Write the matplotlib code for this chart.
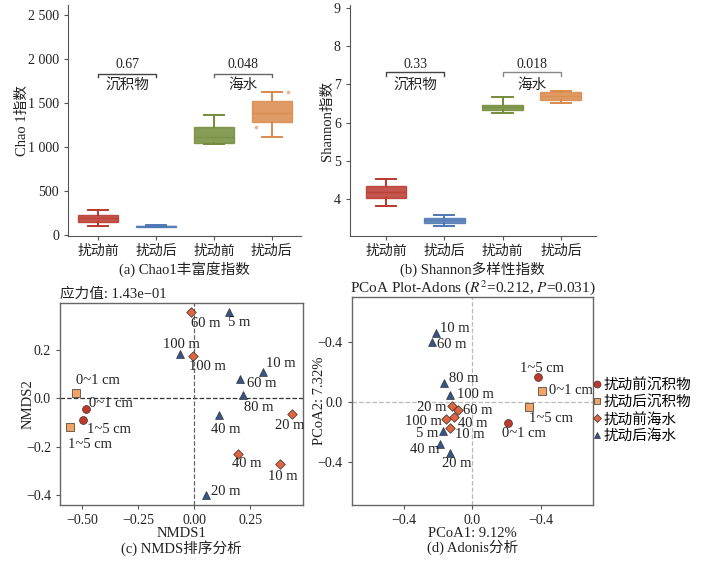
import matplotlib
matplotlib.use("Agg")
import matplotlib.pyplot as plt
from matplotlib.lines import Line2D
from matplotlib.ticker import FixedLocator, FixedFormatter

plt.rcParams['font.family'] = ['Liberation Serif', 'Noto Sans CJK SC', 'DejaVu Sans']
plt.rcParams['mathtext.fontset'] = 'stix'
plt.rcParams['axes.unicode_minus'] = True

# ---------------- data ----------------
groups = ["扰动前", "扰动后", "扰动前", "扰动后"]
box_colors = ["#B9382E", "#4E78B3", "#728C3A", "#D98A4B"]

# Chao1: whisker low, q1, median, q3, whisker high
chao_lo = [100, 88, 1030, 1110]
chao_q1 = [150, 95, 1040, 1280]
chao_med = [195, 100, 1110, 1390]
chao_q3 = [230, 106, 1230, 1520]
chao_hi = [280, 112, 1360, 1620]
chao_pts_x = [4.28, 3.72]
chao_pts_y = [1620, 1222]

# Shannon
sh_lo = [3.82, 3.30, 6.24, 6.52]
sh_q1 = [4.02, 3.38, 6.33, 6.60]
sh_med = [4.18, 3.45, 6.40, 6.70]
sh_q3 = [4.35, 3.50, 6.47, 6.79]
sh_hi = [4.53, 3.58, 6.68, 6.84]

chao_p = ["0.67", "0.048"]
sh_p = ["0.33", "0.018"]
pair_names = ["沉积物", "海水"]

legend_names = ["扰动前沉积物", "扰动后沉积物", "扰动前海水", "扰动后海水"]

# NMDS
nm_sed_pre_x = [-0.482, -0.494]
nm_sed_pre_y = [-0.044, -0.090]
nm_sed_pre_lab = ["0~1 cm", "1~5 cm"]
nm_sed_post_x = [-0.528, -0.552]
nm_sed_post_y = [0.021, -0.117]
nm_sed_post_lab = ["0~1 cm", "1~5 cm"]
nm_sea_pre_x = [-0.013, -0.005, 0.439, 0.198, 0.384]
nm_sea_pre_y = [0.356, 0.177, -0.065, -0.230, -0.272]
nm_sea_pre_lab = ["60 m", "100 m", "20 m", "40 m", "10 m"]
nm_sea_post_x = [0.158, -0.062, 0.309, 0.205, 0.217, 0.112, 0.052]
nm_sea_post_y = [0.359, 0.183, 0.110, 0.079, 0.014, -0.069, -0.400]
nm_sea_post_lab = ["5 m", "100 m", "10 m", "60 m", "80 m", "40 m", "20 m"]

# PCoA
pc_sed_pre_x = [0.379, 0.209]
pc_sed_pre_y = [0.165, -0.139]
pc_sed_pre_lab = ["1~5 cm", "0~1 cm"]
pc_sed_post_x = [0.404, 0.330]
pc_sed_post_y = [0.074, -0.038]
pc_sed_post_lab = ["0~1 cm", "1~5 cm"]
pc_sea_pre_x = [-0.116, -0.085, -0.153, -0.110, -0.128]
pc_sea_pre_y = [-0.027, -0.058, -0.112, -0.100, -0.174]
pc_sea_pre_lab = ["20 m", "60 m", "100 m", "40 m", "10 m"]
pc_sea_post_x = [-0.214, -0.236, -0.168, -0.129, -0.174, -0.186, -0.131]
pc_sea_post_y = [0.460, 0.400, 0.125, 0.047, -0.194, -0.282, -0.340]
pc_sea_post_lab = ["10 m", "60 m", "80 m", "100 m", "5 m", "40 m", "20 m"]

# label placement (offset in points, horizontal alignment)
nm_off = [
    [((2, 4), 'left'), ((3, -7), 'left')],
    [((0, 9), 'left'), ((-2, -13), 'left')],
    [((0, -8), 'left'), ((-3, -8), 'left'), ((-2, -8), 'center'), ((6, -7), 'center'), ((2, -9), 'center')],
    [((7, -8), 'center'), ((1, 7), 'center'), ((2, 6), 'left'), ((5, -3), 'left'),
     ((1, -9), 'left'), ((5, -10), 'center'), ((4, 3), 'left')],
]
pc_off = [
    [((3, 6), 'center'), ((11, -8), 'center')],
    [((5, 0), 'left'), ((0, -8), 'left')],
    [((-4, -1), 'right'), ((4, 0), 'left'), ((-3, -2), 'right'), ((3, -5), 'left'), ((3, -5), 'left')],
    [((3, 3), 'left'), ((4, -2), 'left'), ((4, 3), 'left'), ((5, 0), 'left'),
     ((-3, -2), 'right'), ((-1, -4), 'right'), ((5, -8), 'center')],
]

mk_styles = [('o', '#C0392B'), ('s', '#F2A262'), ('D', '#E0653E'), ('^', '#34568B')]
txt_col = '#222222'
spine_col = '#555555'

fig = plt.figure(figsize=(7.01, 5.62), dpi=100)
ax_a = fig.add_axes([0.097, 0.580, 0.332, 0.411])
ax_b = fig.add_axes([0.499, 0.580, 0.351, 0.411])
ax_c = fig.add_axes([0.0856, 0.1014, 0.347, 0.3594])
ax_d = fig.add_axes([0.502, 0.1014, 0.344, 0.370])


def draw_box(ax, lo, q1, med, q3, hi):
    stats = []
    for i in range(len(lo)):
        stats.append(dict(whislo=lo[i], q1=q1[i], med=med[i], q3=q3[i], whishi=hi[i], fliers=[]))
    bp = ax.bxp(stats, positions=[1, 2, 3, 4], widths=0.7, capwidths=0.35,
                patch_artist=True, showfliers=False)
    for i, c in enumerate(box_colors):
        bp['boxes'][i].set_facecolor(c)
        bp['boxes'][i].set_alpha(0.85)
        bp['boxes'][i].set_edgecolor(c)
        bp['boxes'][i].set_linewidth(1.0)
        bp['medians'][i].set_color(c)
        bp['medians'][i].set_linewidth(1.0)
        bp['medians'][i].set_alpha(0.7)
        for ln in bp['whiskers'][2 * i:2 * i + 2] + bp['caps'][2 * i:2 * i + 2]:
            ln.set_color(c)
            ln.set_linewidth(1.4)
    ax.spines['top'].set_visible(False)
    ax.spines['right'].set_visible(False)
    for s in ['left', 'bottom']:
        ax.spines[s].set_color(spine_col)
    ax.set_xticks([1, 2, 3, 4])
    ax.set_xticklabels(groups)
    ax.tick_params(labelsize=10, colors=spine_col, labelcolor=txt_col, length=3)


def bracket(ax, x1, x2, y, drop, txt_top, txt_bot, top_gap, bot_gap, col):
    ax.plot([x1, x1, x2, x2], [y - drop, y, y, y - drop], color=col, lw=1.0)
    ax.text((x1 + x2) / 2, y + top_gap, txt_top, ha='center', va='center', fontsize=10, color=txt_col)
    ax.text((x1 + x2) / 2, y - bot_gap, txt_bot, ha='center', va='center', fontsize=10.5, color=txt_col)


# (a) Chao1
draw_box(ax_a, chao_lo, chao_q1, chao_med, chao_q3, chao_hi)
ax_a.scatter(chao_pts_x, chao_pts_y, s=3, color=box_colors[3], alpha=0.5, zorder=3)
ax_a.set_xlim(0.48, 4.5)
ax_a.set_ylim(-12, 2610)
ax_a.yaxis.set_major_locator(FixedLocator([0, 500, 1000, 1500, 2000, 2500]))
ax_a.yaxis.set_major_formatter(FixedFormatter(["0", "500", "1 000", "1 500", "2 000", "2 500"]))
ax_a.set_ylabel("Chao 1指数", fontsize=10.5, color=txt_col, labelpad=-1)
ax_a.set_xlabel("(a) Chao1丰富度指数", fontsize=10.5, color=txt_col, labelpad=2)
bracket(ax_a, 1, 2, 1833, 45, chao_p[0], pair_names[0], 100, 135, '#444444')
bracket(ax_a, 3, 4, 1833, 45, chao_p[1], pair_names[1], 100, 135, '#666666')

# (b) Shannon
draw_box(ax_b, sh_lo, sh_q1, sh_med, sh_q3, sh_hi)
ax_b.set_xlim(0.38, 4.6)
ax_b.set_ylim(3.03, 9.08)
ax_b.set_yticks([4, 5, 6, 7, 8, 9])
ax_b.set_ylabel("Shannon指数", fontsize=10.5, color=txt_col, labelpad=0)
ax_b.set_xlabel("(b) Shannon多样性指数", fontsize=10.5, color=txt_col, labelpad=2)
bracket(ax_b, 1, 2, 7.32, 0.1, sh_p[0], pair_names[0], 0.21, 0.35, '#444444')
bracket(ax_b, 3, 4, 7.32, 0.1, sh_p[1], pair_names[1], 0.21, 0.35, '#888888')


def scatter_labels(ax, xs, ys, labs, offs, style):
    m, c = style
    ax.scatter(xs, ys, marker=m, s=32 if m != 'D' else 24, color=c,
               edgecolors='#333333', linewidths=0.5, zorder=3)
    for x, y, t, (o, ha) in zip(xs, ys, labs, offs):
        ax.annotate(t, (x, y), xytext=o, textcoords='offset points', ha=ha, va='center',
                    fontsize=10.5, color=txt_col, zorder=4)


def frame(ax):
    for s in ax.spines.values():
        s.set_color('#666666')
        s.set_linewidth(1.0)
    ax.tick_params(labelsize=10, colors=spine_col, labelcolor=txt_col, length=3)


# (c) NMDS
frame(ax_c)
ax_c.axhline(0, color='#333333', ls='--', lw=0.9, zorder=1)
ax_c.axvline(0, color='#666666', ls='--', lw=0.9, zorder=1)
nm_sets = [(nm_sed_pre_x, nm_sed_pre_y, nm_sed_pre_lab), (nm_sed_post_x, nm_sed_post_y, nm_sed_post_lab),
           (nm_sea_pre_x, nm_sea_pre_y, nm_sea_pre_lab), (nm_sea_post_x, nm_sea_post_y, nm_sea_post_lab)]
for k, (xs, ys, labs) in enumerate(nm_sets):
    scatter_labels(ax_c, xs, ys, labs, nm_off[k], mk_styles[k])
ax_c.set_xlim(-0.598, 0.487)
ax_c.set_ylim(-0.44, 0.394)
ax_c.set_xticks([-0.5, -0.25, 0.0, 0.25])
ax_c.set_yticks([-0.4, -0.2, 0.0, 0.2])
ax_c.set_xlabel("NMDS1", fontsize=10.5, color=txt_col, labelpad=0)
ax_c.set_ylabel("NMDS2", fontsize=10.5, color=txt_col, labelpad=-6)
ax_c.text(0.0, 1.01, "应力值: 1.43e\u221201", transform=ax_c.transAxes, ha='left', va='bottom',
          fontsize=10.5, color=txt_col)
ax_c.text(0.5, -0.215, "(c) NMDS排序分析", transform=ax_c.transAxes, ha='center', va='center',
          fontsize=10.5, color=txt_col)

# (d) PCoA
frame(ax_d)
ax_d.axhline(0, color='#BBBBBB', ls='--', lw=0.9, zorder=1)
ax_d.axvline(0, color='#BBBBBB', ls='--', lw=0.9, zorder=1)
pc_sets = [(pc_sed_pre_x, pc_sed_pre_y, pc_sed_pre_lab), (pc_sed_post_x, pc_sed_post_y, pc_sed_post_lab),
           (pc_sea_pre_x, pc_sea_pre_y, pc_sea_pre_lab), (pc_sea_post_x, pc_sea_post_y, pc_sea_post_lab)]
for k, (xs, ys, labs) in enumerate(pc_sets):
    scatter_labels(ax_d, xs, ys, labs, pc_off[k], mk_styles[k])
ax_d.set_xlim(-0.70, 0.70)
ax_d.set_ylim(-0.69, 0.70)
ax_d.xaxis.set_major_locator(FixedLocator([-0.4, 0.0, 0.4]))
ax_d.xaxis.set_major_formatter(FixedFormatter(["\u22120.4", "0.0", "\u22120.4"]))
ax_d.yaxis.set_major_locator(FixedLocator([-0.4, 0.0, 0.4]))
ax_d.yaxis.set_major_formatter(FixedFormatter(["\u22120.4", "0.0", "\u22120.4"]))
ax_d.set_xlabel("PCoA1: 9.12%", fontsize=10.5, color=txt_col, labelpad=0)
ax_d.set_ylabel("PCoA2: 7.32%", fontsize=10.5, color=txt_col, labelpad=-6)
ax_d.set_title("PCoA Plot-Adons ($R^2$=0.212, $P$=0.031)", fontsize=11, color=txt_col, pad=3)
ax_d.text(0.5, -0.205, "(d) Adonis分析", transform=ax_d.transAxes, ha='center', va='center',
          fontsize=10.5, color=txt_col)

handles = [Line2D([], [], ls='', marker=m, color=c, markeredgecolor='#333333', markeredgewidth=0.5,
                  markersize=5 if m != 'D' else 4.5) for m, c in mk_styles]
fig.legend(handles, legend_names, loc='center left', bbox_to_anchor=(0.845, 0.269), frameon=False,
           fontsize=10.5, handlelength=0.4, handletextpad=0.25, labelspacing=0.2, borderpad=0.1,
           borderaxespad=0.0)

fig.savefig("out.png", dpi=100)
